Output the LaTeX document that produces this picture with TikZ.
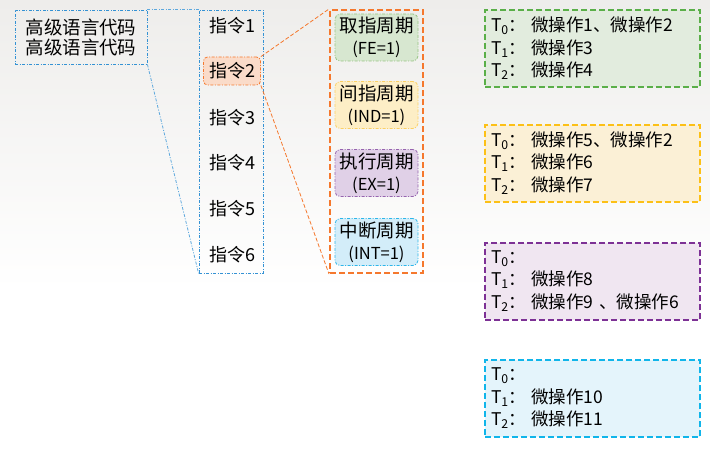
\documentclass[tikz,border=0pt]{standalone}
\usepackage{fontspec}
\setmainfont{Noto Sans CJK SC}
\definecolor{bgtop}{RGB}{238,237,235}
\definecolor{lineblue}{RGB}{52,146,212}
\definecolor{lineorange}{RGB}{245,120,45}
\definecolor{selfill}{RGB}{250,219,201}
\definecolor{fegreen}{RGB}{150,196,130}
\definecolor{fefill}{RGB}{215,231,208}
\definecolor{indyellow}{RGB}{252,208,100}
\definecolor{indfill}{RGB}{253,238,198}
\definecolor{expurple}{RGB}{150,100,175}
\definecolor{exfill}{RGB}{224,208,231}
\definecolor{intblue}{RGB}{45,182,234}
\definecolor{intfill}{RGB}{211,237,249}
\definecolor{opgreen}{RGB}{90,175,72}
\definecolor{opgreenfill}{RGB}{226,236,222}
\definecolor{opyellow}{RGB}{252,192,22}
\definecolor{opyellowfill}{RGB}{251,240,214}
\definecolor{oppurple}{RGB}{125,49,149}
\definecolor{oppurplefill}{RGB}{240,230,241}
\definecolor{opblue}{RGB}{16,181,234}
\definecolor{opbluefill}{RGB}{228,244,251}
\newcommand{\tstep}[1]{T\textsubscript{#1}：\hspace{5pt}}
\newcommand{\cyc}[2]{{\fontsize{18.5}{22}\selectfont #1}\\#2}
\tikzset{
  dashdot/.style={line width=0.8pt, dash pattern=on 3pt off 1.5pt on 1pt off 1.5pt},
  codebox/.style={draw=lineblue, dashdot, minimum width=132, minimum height=54,
    align=left, font=\fontsize{18.5}{20}\selectfont},
  colbox/.style={draw=lineblue, dashdot, minimum width=64, minimum height=263},
  instr/.style={font=\fontsize{18}{20}\selectfont, inner sep=0pt},
  instrsel/.style={instr, draw=lineorange, dashdot, fill=selfill, rounded corners=4pt,
    minimum width=57, minimum height=28},
  phasebox/.style={draw=lineorange, line width=2pt, dash pattern=on 6pt off 3pt,
    minimum width=93, minimum height=263},
  phase/.style={dashdot, rounded corners=5pt, minimum width=83, minimum height=47,
    align=center, inner sep=0pt, font=\fontsize{16.5}{22}\selectfont},
  opbox/.style={line width=2pt, dash pattern=on 6pt off 3pt, minimum width=215,
    minimum height=77, text width=203, align=left, inner sep=0pt,
    font=\fontsize{17.5}{22.5}\selectfont},
  zoomblue/.style={draw=lineblue!80, dashdot},
  zoomorange/.style={draw=lineorange, line width=0.8pt, dash pattern=on 4pt off 2pt}
}
\begin{document}
\begin{tikzpicture}[x=1pt,y=-1pt]
  % Canvas
  \useasboundingbox (0,0) rectangle (710,460);
  \fill[white] (0,0) rectangle (710,460);
  \shade[top color=bgtop, bottom color=white] (0,0) rectangle (710,290);

  % High-level code and instructions
  \node[codebox] (code) at (81,37) {高级语言代码\\高级语言代码};
  \node[colbox] (col) at (231,141.5) {};
  \foreach \k/\y/\s in {1/26/instr, 2/71/instrsel, 3/118/instr,
                        4/163/instr, 5/209/instr, 6/255/instr}
    \node[\s] (i\k) at (232,\y) {指令\k};

  % Cycles of one instruction
  \node[phasebox] (cycles) at (376.5,141.5) {};
  \node[phase, draw=fegreen,   fill=fefill]  (fe)  at (376.5,37.5) {\cyc{取指周期}{(FE=1)}};
  \node[phase, draw=indyellow, fill=indfill] (ind) at (376.5,105)  {\cyc{间指周期}{(IND=1)}};
  \node[phase, draw=expurple,  fill=exfill]  (ex)  at (376.5,173)  {\cyc{执行周期}{(EX=1)}};
  \node[phase, draw=intblue,   fill=intfill] (int) at (376.5,242)  {\cyc{中断周期}{(INT=1)}};

  % Zoom lines
  \draw[zoomblue] (code.north east) -- (col.north west);
  \draw[zoomblue] (code.south east) -- (col.south west);
  \draw[zoomorange] (i2.north east) -- (cycles.north west);
  \draw[zoomorange] (i2.south east) -- (cycles.south west);

  % Micro-operations per cycle
  \node[opbox, draw=opgreen, fill=opgreenfill] (opfe) at (592.5,48.5)
    {\tstep{0}微操作1、微操作2\\\tstep{1}微操作3\\\tstep{2}微操作4};
  \node[opbox, draw=opyellow, fill=opyellowfill] (opind) at (592.5,163)
    {\tstep{0}微操作5、微操作2\\\tstep{1}微操作6\\\tstep{2}微操作7};
  \node[opbox, draw=oppurple, fill=oppurplefill] (opex) at (592.5,281)
    {\tstep{0}\\\tstep{1}微操作8\\\tstep{2}微操作9 、微操作6};
  \node[opbox, draw=opblue, fill=opbluefill] (opint) at (592.5,398.5)
    {\tstep{0}\\\tstep{1}微操作10\\\tstep{2}微操作11};
\end{tikzpicture}
\end{document}
